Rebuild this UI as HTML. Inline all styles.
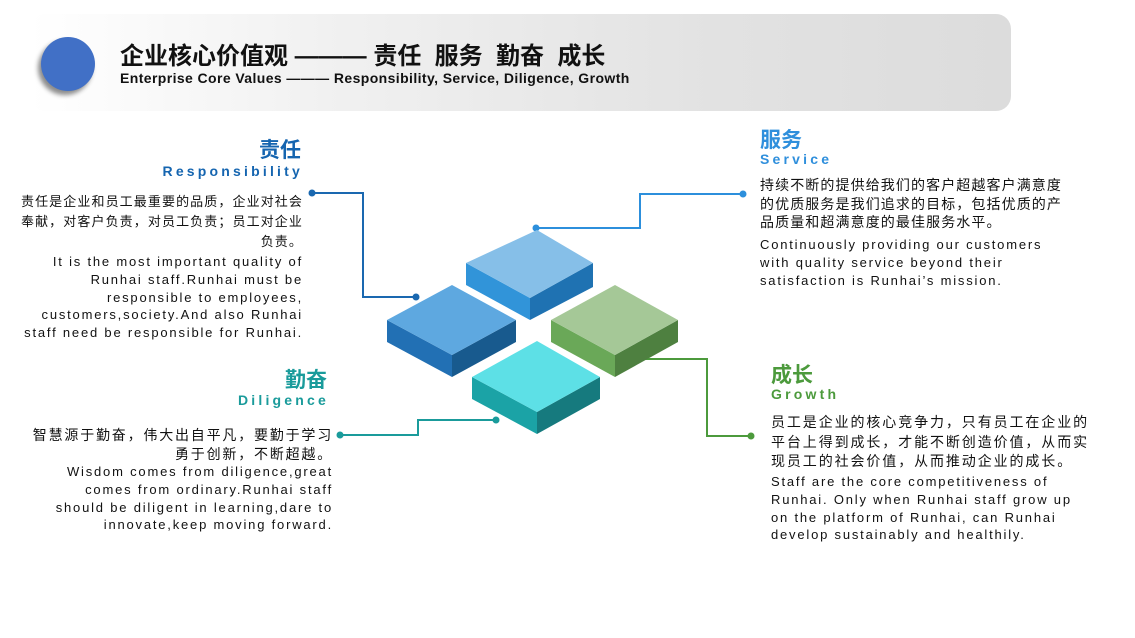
<!DOCTYPE html>
<html><head><meta charset="utf-8"><style>
body{margin:0;width:1135px;height:638px;background:#fff;position:relative;overflow:hidden;font-family:"Liberation Sans","Noto Sans CJK SC",sans-serif;}
.hdr{position:absolute;left:30px;top:14px;width:981px;height:97px;border-radius:15px;background:linear-gradient(90deg,#ffffff 0%,#f1f1f1 30%,#e2e2e2 70%,#dcdcdc 100%);}
.circ{position:absolute;left:41px;top:37px;width:54px;height:54px;border-radius:50%;background:#4170c6;box-shadow:-3px 4px 5px rgba(0,0,0,0.45);}
.t1{position:absolute;left:120px;top:36px;font-size:24px;font-weight:bold;color:#111;white-space:nowrap;}
.t2{position:absolute;left:120px;top:70px;font-size:14px;font-weight:bold;color:#111;white-space:nowrap;letter-spacing:0.4px;}
.abs{position:absolute;white-space:pre;}
.h{font-size:21px;font-weight:bold;}
.e{font-size:14px;font-weight:bold;letter-spacing:3.2px;}
.cn{font-size:13px;line-height:20px;color:#111;}
.en{font-size:13px;line-height:17.8px;color:#111;letter-spacing:1.8px;}
.r{text-align:right;}
</style></head><body>
<div class="hdr"></div>
<div class="circ"></div>
<div class="t1">企业核心价值观 ——— 责任&nbsp; 服务&nbsp; 勤奋&nbsp; 成长</div>
<div class="t2">Enterprise Core Values ——— Responsibility, Service, Diligence, Growth</div>

<svg width="1135" height="638" style="position:absolute;left:0;top:0">
<g fill="none" stroke-width="2">
<polyline points="312,193 363,193 363,297 416,297" stroke="#1a68b0"/>
<polyline points="536,228 640,228 640,194 743,194" stroke="#2c8fdc"/>
<polyline points="613,359 707,359 707,436 751,436" stroke="#4c9a3c"/>
<polyline points="496,420 418,420 418,435 340,435" stroke="#1a9b9b"/>
</g>
<circle cx="312" cy="193" r="3.5" fill="#1a68b0"/><circle cx="416" cy="297" r="3.5" fill="#1a68b0"/>
<circle cx="536" cy="228" r="3.5" fill="#2c8fdc"/><circle cx="743" cy="194" r="3.5" fill="#2c8fdc"/>
<circle cx="613" cy="359" r="3.5" fill="#4c9a3c"/><circle cx="751" cy="436" r="3.5" fill="#4c9a3c"/>
<circle cx="496" cy="420" r="3.5" fill="#1a9b9b"/><circle cx="340" cy="435" r="3.5" fill="#1a9b9b"/>
<polygon points="466,263 530,298 530,320 466,285" fill="#3194d9"/>
<polygon points="530,298 593,263 593,287 530,320" fill="#1f72b2"/>
<polygon points="537,230 593,263 530,298 466,263" fill="#86bfe8"/>
<polygon points="387,320 452,355 452,377 387,342" fill="#2270b4"/>
<polygon points="452,355 516,320 516,342 452,377" fill="#185a8e"/>
<polygon points="452,285 516,320 452,355 387,320" fill="#5ea8e0"/>
<polygon points="551,320 615,355 615,377 551,342" fill="#6aa858"/>
<polygon points="615,355 678,320 678,342 615,377" fill="#4e8040"/>
<polygon points="615,285 678,320 615,355 551,320" fill="#a5c897"/>
<polygon points="472,377 537,412 537,434 472,399" fill="#1ba3a6"/>
<polygon points="537,412 600,377 600,399 537,434" fill="#167a7e"/>
<polygon points="537,341 600,377 537,412 472,377" fill="#5de0e6"/>
</svg>

<div class="abs h r" style="right:834px;top:134px;color:#1565b0">责任</div>
<div class="abs e r" style="right:832px;top:163px;color:#1565b0">Responsibility</div>
<div class="abs cn r" style="right:832px;top:192px;letter-spacing:1.1px">责任是企业和员工最重要的品质，企业对社会
奉献，对客户负责，对员工负责；员工对企业
负责。</div>
<div class="abs en r" style="right:832px;top:253px;">It is the most important quality of
Runhai staff.Runhai must be
responsible to employees,
customers,society.And also Runhai
staff need be responsible for Runhai.</div>

<div class="abs h" style="left:760px;top:124px;color:#2f8fdc">服务</div>
<div class="abs e" style="left:760px;top:151px;color:#2f8fdc">Service</div>
<div class="abs cn" style="left:760px;top:176px;font-size:14px;line-height:18.5px;letter-spacing:1.1px">持续不断的提供给我们的客户超越客户满意度
的优质服务是我们追求的目标，包括优质的产
品质量和超满意度的最佳服务水平。</div>
<div class="abs en" style="left:760px;top:236px;">Continuously providing our customers
with quality service beyond their
satisfaction is Runhai’s mission.</div>

<div class="abs h r" style="right:808px;top:364px;color:#1a9b9b">勤奋</div>
<div class="abs e r" style="right:806px;top:392px;color:#1a9b9b">Diligence</div>
<div class="abs cn r" style="right:802px;top:426px;font-size:14px;line-height:18.5px;letter-spacing:1.8px">智慧源于勤奋，伟大出自平凡，要勤于学习
勇于创新，不断超越。</div>
<div class="abs en r" style="right:802px;top:463px;">Wisdom comes from diligence,great
comes from ordinary.Runhai staff
should be diligent in learning,dare to
innovate,keep moving forward.</div>

<div class="abs h" style="left:771px;top:359px;color:#4c9a3c">成长</div>
<div class="abs e" style="left:771px;top:386px;color:#4c9a3c">Growth</div>
<div class="abs cn" style="left:771px;top:413px;font-size:14px;line-height:19.5px;letter-spacing:1.9px">员工是企业的核心竞争力，只有员工在企业的
平台上得到成长，才能不断创造价值，从而实
现员工的社会价值，从而推动企业的成长。</div>
<div class="abs en" style="left:771px;top:473px;">Staff are the core competitiveness of
Runhai. Only when Runhai staff grow up
on the platform of Runhai, can Runhai
develop sustainably and healthily.</div>
</body></html>
